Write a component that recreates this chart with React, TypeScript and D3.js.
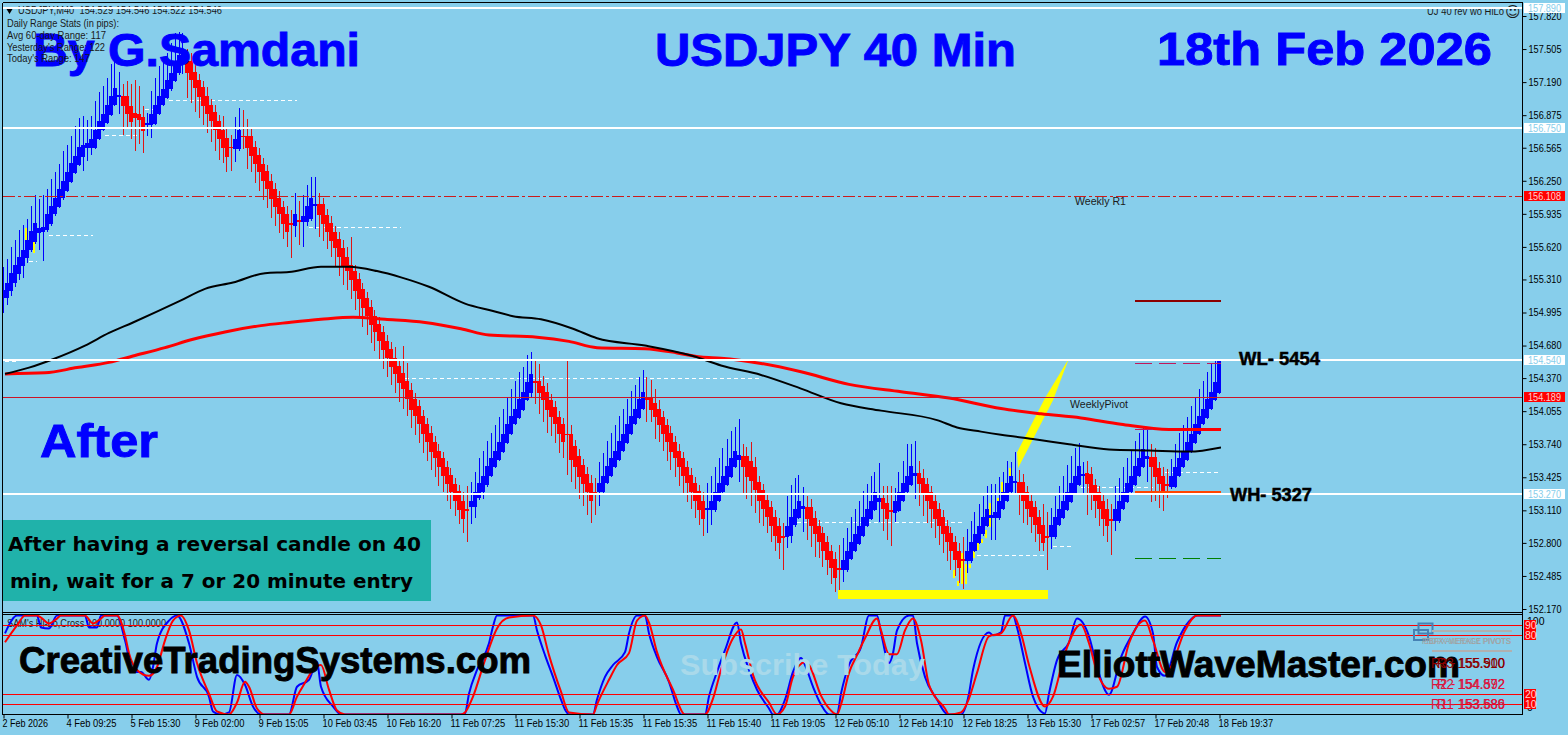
import React, { useEffect, useRef } from 'react';
import * as d3 from 'd3';

// heiken ashi closes, one per M40 bar
const closes = [
  155.21,155.28,155.37,155.45,155.52,155.59,155.69,155.77,155.85,155.80,
  155.81,155.93,156.01,156.09,156.17,156.25,156.33,156.42,156.49,156.57,
  156.59,156.61,156.65,156.73,156.82,156.89,156.97,157.06,157.13,157.07,
  156.96,156.89,156.81,156.85,156.83,156.72,156.80,156.89,156.97,157.06,
  157.12,157.21,157.28,157.38,157.45,157.47,157.28,157.21,157.13,157.05,
  156.96,156.89,156.82,156.73,156.65,156.56,156.48,156.56,156.65,156.73,
  156.67,156.56,156.49,156.41,156.33,156.25,156.17,156.08,156.00,155.93,
  155.84,155.76,155.83,155.93,155.86,155.91,156.01,156.09,156.03,155.92,
  155.84,155.76,155.68,155.61,155.52,155.44,155.39,155.30,155.20,155.12,
  155.04,154.96,154.88,154.81,154.72,154.64,154.56,154.48,154.41,154.32,
  154.27,154.17,154.07,154.01,153.93,153.84,153.76,153.67,153.61,153.52,
  153.44,153.36,153.28,153.20,153.11,153.03,153.10,153.20,153.28,153.37,
  153.44,153.53,153.61,153.68,153.76,153.84,153.93,154.01,154.08,154.17,
  154.24,154.33,154.41,154.32,154.23,154.16,154.07,154.00,153.93,153.84,
  153.76,153.83,153.59,153.52,153.43,153.36,153.28,153.20,153.26,153.37,
  153.44,153.53,153.61,153.68,153.77,153.84,153.93,154.01,154.08,154.17,
  154.24,154.16,154.07,154.00,153.92,153.84,153.76,153.67,153.61,153.52,
  153.44,153.37,153.28,153.20,153.11,153.03,153.13,153.20,153.28,153.37,
  153.44,153.53,153.61,153.68,153.64,153.52,153.43,153.39,153.30,153.20,
  153.12,153.05,152.96,152.87,152.80,152.85,152.96,153.05,153.12,153.20,
  153.15,153.03,152.96,152.88,152.81,152.72,152.64,152.56,152.47,152.54,
  152.64,152.72,152.81,152.88,152.96,153.05,153.12,153.20,153.28,153.23,
  153.12,153.03,153.09,153.20,153.28,153.37,153.44,153.53,153.47,153.36,
  153.27,153.20,153.12,153.03,152.96,152.88,152.81,152.72,152.64,152.56,
  152.63,152.72,152.81,152.88,152.96,153.05,153.12,153.07,153.09,153.20,
  153.28,153.37,153.44,153.39,153.27,153.20,153.12,153.05,152.97,152.88,
  152.80,152.85,152.97,153.05,153.12,153.20,153.28,153.37,153.44,153.53,
  153.46,153.36,153.27,153.20,153.12,153.03,152.96,153.01,153.12,153.20,
  153.28,153.37,153.44,153.53,153.61,153.69,153.63,153.52,153.43,153.36,
  153.27,153.34,153.44,153.52,153.61,153.68,153.76,153.84,153.93,154.01,
  154.08,154.17,154.24,154.33,154.53,
];

// signed body in pips, positive = bull bar
const bodyPips = [
  8,15,17,17,16,15,18,18,18,5,
  5,15,17,16,17,16,18,18,17,17,
  11,5,9,17,17,16,17,18,16,2,
  -10,-17,-15,-5,-6,-14,2,11,18,17,
  15,17,16,18,17,10,-11,-18,-16,-16,
  -18,-17,-15,-18,-17,-17,-18,-1,10,18,
  -1,-12,-19,-16,-17,-16,-17,-17,-17,-16,
  -16,-17,-2,11,-2,5,15,20,2,-11,
  -19,-16,-17,-15,-18,-17,-13,-15,-19,-19,
  -18,-17,-17,-15,-17,-17,-16,-17,-15,-17,
  -15,-17,-19,-16,-17,-17,-17,-18,-15,-16,
  -17,-16,-17,-16,-18,-17,-2,6,14,14,
  16,18,17,16,17,17,18,17,15,18,
  17,17,18,-2,-11,-13,-17,-16,-16,-16,
  -17,-1,-25,-20,-20,-18,-18,-17,-2,9,
  16,16,17,16,18,16,18,17,15,18,
  16,-2,-11,-13,-16,-16,-16,-18,-15,-16,
  -17,-15,-17,-17,-18,-17,2,9,17,17,
  16,18,18,16,5,-11,-20,-19,-22,-18,
  -18,-16,-18,-18,-16,-2,10,18,15,16,
  3,-11,-18,-16,-15,-17,-17,-16,-18,-2,
  10,18,16,16,17,18,16,17,17,4,
  -11,-15,-2,12,18,17,16,18,3,-11,
  -15,-16,-16,-17,-16,-17,-15,-17,-17,-16,
  -2,9,18,16,16,17,16,3,5,16,
  16,17,16,2,-11,-18,-16,-15,-17,-17,
  -17,-2,11,19,15,16,17,18,17,18,
  2,-11,-19,-15,-16,-17,-16,-2,11,19,
  16,18,16,18,17,17,3,-10,-19,-15,
  -17,-2,11,19,17,16,17,17,18,17,
  15,18,16,17,30,
];

const upperWickPips = [
  22,22,25,24,26,24,20,24,26,28,
  30,24,26,24,24,28,26,26,28,28,
  28,22,22,28,28,26,26,30,30,22,
  11,14,21,31,26,10,10,22,26,28,
  28,26,28,28,22,19,12,8,6,6,
  6,8,6,6,6,14,10,12,21,21,
  24,16,8,6,6,6,6,6,6,6,
  6,8,12,20,18,20,20,20,26,10,
  6,6,6,6,6,8,10,26,6,6,
  6,6,6,6,6,6,6,6,11,6,
  26,17,6,6,6,6,6,6,6,6,
  6,6,6,6,6,8,22,18,20,24,
  24,24,24,24,24,24,26,26,26,26,
  24,26,21,20,16,10,8,6,6,6,
  6,70,8,6,6,6,6,8,14,20,
  22,24,24,24,24,24,24,24,22,21,
  21,20,17,14,8,6,6,6,6,6,
  6,6,6,6,6,8,24,24,24,24,
  26,26,26,22,34,11,8,18,10,6,
  6,6,6,6,8,12,29,30,30,25,
  18,11,8,6,6,6,6,6,6,22,
  21,22,24,24,24,24,24,24,20,33,
  11,16,23,12,20,21,30,21,30,11,
  8,6,6,6,6,6,6,6,6,8,
  21,21,20,21,21,20,22,29,27,23,
  20,21,13,28,11,8,6,6,6,6,
  20,22,16,20,22,24,26,26,26,22,
  11,11,6,6,6,6,10,14,22,22,
  24,24,24,24,24,20,27,12,8,6,
  8,14,16,22,24,24,24,26,26,26,
  26,26,26,20,1,
];

const lowerWickPips = [
  14,6,5,4,6,12,4,2,2,16,
  27,2,2,2,1,2,1,1,1,1,
  14,12,6,1,1,1,1,1,1,16,
  27,14,16,32,23,21,10,12,1,1,
  1,1,1,1,2,10,24,22,22,20,
  18,18,20,20,20,14,15,22,12,2,
  12,20,16,18,18,18,18,18,18,18,
  14,14,32,11,22,24,4,2,22,21,
  16,16,16,18,18,18,18,18,18,18,
  18,18,18,18,18,18,18,18,18,18,
  19,16,18,18,18,18,18,18,18,18,
  16,16,16,14,13,14,29,16,10,2,
  6,2,1,1,1,1,1,1,1,1,
  1,1,5,20,20,21,22,18,18,18,
  15,38,21,21,21,21,21,21,19,13,
  2,1,1,1,1,1,1,1,1,1,
  1,21,12,21,16,16,18,18,18,18,
  18,18,16,16,14,16,22,14,2,1,
  1,1,1,1,21,26,21,24,22,21,
  16,16,15,15,15,31,11,7,2,1,
  22,20,20,21,15,15,15,15,14,23,
  11,2,1,1,1,1,1,1,1,19,
  21,20,32,8,1,1,1,1,22,21,
  21,21,18,18,18,18,18,18,16,14,
  27,12,2,1,1,1,1,21,21,2,
  1,1,1,10,20,21,15,16,16,16,
  8,31,12,2,1,1,1,1,1,1,
  18,29,16,16,16,16,15,33,10,2,
  1,1,1,1,1,1,22,33,23,23,
  17,11,2,1,1,1,1,1,1,1,
  1,1,1,1,1,
];

// moving averages read at a bar index
const blackMaBars = [0,6,12,20,26,32,44,50,57,65,71,79,86,93,99,106,115,122,127,134,142,148,160,172,179,189,199,209,219,233,238,244,249,257,266,276,286,296,304];
const blackMaValues = [154.41,154.47,154.55,154.68,154.80,154.90,155.11,155.22,155.28,155.37,155.38,155.43,155.43,155.39,155.33,155.24,155.08,155.01,154.96,154.93,154.84,154.75,154.68,154.58,154.49,154.40,154.27,154.13,154.06,153.97,153.90,153.86,153.83,153.79,153.74,153.69,153.68,153.67,153.71];
const redMaBars = [0,10,18,26,32,40,47,55,64,71,79,87,95,105,114,121,133,141,148,160,168,174,179,189,199,211,224,236,249,259,269,279,291,304];
const redMaValues = [154.41,154.42,154.47,154.52,154.58,154.66,154.74,154.81,154.87,154.90,154.93,154.95,154.93,154.90,154.84,154.78,154.76,154.72,154.66,154.65,154.61,154.57,154.56,154.51,154.43,154.31,154.24,154.18,154.08,154.03,153.99,153.93,153.88,153.88];

// SAM's Hi-Lo cross oscillator
const stochBlueBars = [0,3,8,9,11,13,20,21,23,24,28,30,32,34,36,37,38,41,43,46,48,51,52,54,56,58,60,62,64,71,73,76,78,79,82,84,114,115,116,118,121,122,123,132,133,135,137,139,140,141,147,148,150,152,155,156,158,160,161,163,166,168,169,175,176,178,180,183,184,186,188,191,192,193,195,197,199,200,202,204,206,208,209,211,214,216,218,219,221,222,223,226,227,228,230,233,235,236,239,241,242,246,247,249,250,252,253,255,257,260,261,263,266,268,271,273,276,279,282,285,287,288,290,293,296,298,304];
const stochBlueValues = [82,100,100,88,87,100,100,88,88,100,100,75,43,43,35,48,72,95,100,72,38,18,3,0,2,40,30,8,0,0,28,35,53,28,8,0,0,1,21,45,72,89,100,100,85,60,38,15,5,0,0,15,38,50,63,82,100,100,82,58,33,8,0,0,18,43,65,93,72,45,25,6,0,0,15,43,57,50,28,10,0,0,21,50,68,100,100,83,52,62,85,100,100,72,38,15,2,0,0,21,45,83,80,83,100,100,88,52,18,1,21,55,73,97,79,48,20,58,82,99,82,48,39,73,94,100,100];
const stochRedBars = [0,3,5,8,9,11,13,14,20,22,24,25,28,30,31,33,36,38,40,42,44,46,48,51,53,56,58,60,61,63,65,71,73,75,77,79,81,83,85,114,115,117,120,123,126,132,134,136,139,141,147,148,151,153,156,158,160,161,163,167,170,175,177,179,182,184,185,187,191,193,195,197,200,201,204,206,208,209,211,213,215,218,219,221,223,225,227,229,231,235,236,239,241,243,246,249,252,254,256,260,262,265,269,271,273,276,278,281,285,287,290,291,295,298,304];
const stochRedValues = [73,90,100,100,98,92,97,100,100,92,97,100,100,80,62,45,39,48,75,95,100,85,52,21,3,0,12,33,28,6,0,0,18,32,45,50,25,4,0,0,2,18,55,87,98,100,90,60,23,2,0,10,35,50,62,95,100,93,63,25,0,0,16,45,77,86,72,40,12,0,8,38,53,50,19,6,0,10,42,60,77,97,85,61,61,85,97,75,30,6,0,2,16,42,79,82,100,82,50,8,18,62,91,72,43,26,28,72,95,75,43,45,85,100,100];

const priceTicks = [157.82,157.505,157.19,156.875,156.565,156.25,155.935,155.62,155.31,154.995,154.68,154.37,154.055,153.74,153.425,153.11,152.8,152.485,152.17];
const timeLabels = ['2 Feb 2026','4 Feb 09:25','5 Feb 15:30','9 Feb 02:00','9 Feb 15:05','10 Feb 03:45','10 Feb 16:20','11 Feb 07:25','11 Feb 15:30','11 Feb 15:35','11 Feb 15:35','11 Feb 15:40','11 Feb 19:05','12 Feb 05:10','12 Feb 14:10','12 Feb 18:25','13 Feb 15:30','17 Feb 02:57','17 Feb 20:48','18 Feb 19:37'];
const barsPerLabel = 16;

// horizontal levels with their price tags on the axis
const whiteLevels = [157.89, 156.75, 154.54, 153.27];
const redDashLevel = 156.108;
const redSolidLevel = 154.189;
const oscLevels = [90, 80, 20, 10];

// short dashed white pivots: price, first bar, last bar
const pivotPrices = [155.73,155.49,156.69,156.93,157.02,155.81,154.37,153.00,152.68,152.77,153.33,153.48,154.53];
const pivotFrom = [11,6,25,35,41,76,100,198,243,262,269,290,0];
const pivotTo = [22,8,33,38,73,99,189,240,260,267,287,304,3];

// weekly band on the right: price, colour
const bandPrices = [155.11, 154.51, 153.29, 152.66];
const bandColors = ['#8b0000', '#c2185b', '#ff4500', '#008000'];
const bandDashes = ['', '17,7', '', '17,7'];

// yellow arrow wedge and ghost wicks
const wedgeBars = [253,260,266,262,253.25];
const wedgePrices = [153.66,154.18,154.56,154.16,153.51];
const ghostBars = [5,7,237,238,239,240,241,242,243,244,245,246,248,249,251];
const ghostLows = [155.69,155.56,152.47,152.39,152.41,152.41,152.56,152.66,152.73,152.80,152.85,152.95,153.04,153.22,153.41];
const ghostHighs = [155.80,155.80,152.54,152.44,152.70,152.60,152.60,152.72,152.81,152.84,152.92,153.18,153.23,153.38,153.51];

const infoLines = ['Daily Range Stats (in pips):', 'Avg 60-day Range: 117', "Yesterday's Range: 122", "Today's Range: 147"];
const infoWidths = [112, 99, 98, 83];
const pivotRows = [
  ['R3 - 155.900', 'R3 155.510', '#8b0000'],
  ['R2 - 154.592', 'R2 154.872', '#dc143c'],
  ['R1 - 153.689', 'R1 153.586', '#dc143c'],
];

const SMALL = '"Liberation Sans", Arial, sans-serif';
const BLUE = '#0000ff';
const RED = '#ff0000';

export default function App() {
  const ref = useRef<SVGSVGElement | null>(null);

  useEffect(() => {
    const svg = d3.select(ref.current);
    svg.selectAll('*').remove();

    const x = d3.scaleLinear().domain([0, closes.length - 1]).range([5, 1221]);
    const y = d3.scaleLinear().domain([157.82, 152.17]).range([16, 609]);
    const osc = d3.scaleLinear().domain([0, 100]).range([714.4, 615.6]);

    const text = (g: any, str: string, tx: number, ty: number, size: number, fill: string, opts: any = {}) => {
      const t = g.append('text').attr('x', tx).attr('y', ty)
        .attr('font-family', opts.family || SMALL)
        .attr('font-size', size)
        .attr('font-weight', opts.bold ? 'bold' : 'normal')
        .attr('fill', fill)
        .text(str);
      if (opts.len) t.attr('textLength', opts.len).attr('lengthAdjust', 'spacingAndGlyphs');
      if (opts.heavy) t.attr('stroke', fill).attr('stroke-width', opts.heavy);
      return t;
    };

    svg.append('rect').attr('width', 1568).attr('height', 735).attr('fill', '#87ceeb');

    const defs = svg.append('defs');
    defs.append('clipPath').attr('id', 'plot').append('rect').attr('x', 3).attr('y', 3).attr('width', 1218).attr('height', 609);
    defs.append('clipPath').attr('id', 'oscClip').append('rect').attr('x', 3).attr('y', 615).attr('width', 1519).attr('height', 99);

    const plot = svg.append('g').attr('clip-path', 'url(#plot)');

    // yellow bar and arrow go under the candles
    svg.append('rect')
      .attr('x', x(208.2)).attr('width', x(260.7) - x(208.2))
      .attr('y', y(152.35)).attr('height', y(152.27) - y(152.35))
      .attr('fill', '#ffff00').attr('shape-rendering', 'crispEdges');

    const wedge = d3.line<number>().x(d => x(wedgeBars[d])).y(d => y(wedgePrices[d]));
    plot.append('path').attr('d', wedge(d3.range(wedgeBars.length)) + 'Z').attr('fill', '#ffff00');

    plot.selectAll('.ghost').data(ghostBars).enter().append('line')
      .attr('class', 'ghost')
      .attr('x1', d => x(d) + 1).attr('x2', d => x(d) + 1)
      .attr('y1', (d, i) => y(ghostHighs[i])).attr('y2', (d, i) => y(ghostLows[i]))
      .attr('stroke', '#ffff00').attr('stroke-width', 2).attr('shape-rendering', 'crispEdges');

    // dashed pivots
    plot.selectAll('.pivot').data(pivotPrices).enter().append('line')
      .attr('class', 'pivot')
      .attr('x1', (d, i) => x(pivotFrom[i])).attr('x2', (d, i) => x(pivotTo[i]))
      .attr('y1', d => Math.round(y(d)) + 0.5).attr('y2', d => Math.round(y(d)) + 0.5)
      .attr('stroke', '#ffffff').attr('stroke-dasharray', '4,3').attr('shape-rendering', 'crispEdges');

    // candles, 4px wide, bodies of neighbours overlap into the ribbon
    const candles = plot.selectAll('.bar').data(d3.range(closes.length)).enter().append('g').attr('class', 'bar')
      .attr('shape-rendering', 'crispEdges');
    candles.append('line')
      .attr('x1', d => Math.floor(x(d) - 2) + 0.5).attr('x2', d => Math.floor(x(d) - 2) + 0.5)
      .attr('y1', d => y(Math.max(closes[d], closes[d] - bodyPips[d] / 100) + upperWickPips[d] / 100))
      .attr('y2', d => y(Math.min(closes[d], closes[d] - bodyPips[d] / 100) - lowerWickPips[d] / 100))
      .attr('stroke', d => (bodyPips[d] > 0 ? BLUE : '#e01414'));
    candles.append('rect')
      .attr('x', d => x(d) - 4).attr('width', 4)
      .attr('y', d => y(Math.max(closes[d], closes[d] - bodyPips[d] / 100)))
      .attr('height', d => Math.max(1, Math.abs(bodyPips[d]) / 100 * (y(152) - y(153))))
      .attr('fill', d => (bodyPips[d] > 0 ? BLUE : RED));

    // moving averages
    const blackLine = d3.line<number>().x(d => x(blackMaBars[d])).y(d => y(blackMaValues[d])).curve(d3.curveMonotoneX);
    const redLine = d3.line<number>().x(d => x(redMaBars[d])).y(d => y(redMaValues[d])).curve(d3.curveMonotoneX);
    plot.append('path').attr('d', redLine(d3.range(redMaBars.length))).attr('fill', 'none').attr('stroke', RED).attr('stroke-width', 3);
    plot.append('path').attr('d', blackLine(d3.range(blackMaBars.length))).attr('fill', 'none').attr('stroke', '#000000').attr('stroke-width', 2);

    // weekly band
    plot.selectAll('.band').data(bandPrices).enter().append('line')
      .attr('class', 'band')
      .attr('x1', 1135).attr('x2', 1221)
      .attr('y1', d => Math.round(y(d)) + 0.5).attr('y2', d => Math.round(y(d)) + 0.5)
      .attr('stroke', (d, i) => bandColors[i])
      .attr('stroke-width', (d, i) => (bandDashes[i] ? 1 : 2))
      .attr('stroke-dasharray', (d, i) => bandDashes[i] || null)
      .attr('shape-rendering', 'crispEdges');
    svg.append('line').attr('x1', 1135).attr('x2', 1153).attr('y1', 429.5).attr('y2', 429.5)
      .attr('stroke', '#c2185b').attr('shape-rendering', 'crispEdges');

    // red levels
    svg.append('line').attr('x1', 3).attr('x2', 1522)
      .attr('y1', Math.round(y(redDashLevel)) + 0.5).attr('y2', Math.round(y(redDashLevel)) + 0.5)
      .attr('stroke', '#cc1a1a').attr('stroke-dasharray', '12,3,3,3').attr('shape-rendering', 'crispEdges');
    svg.append('line').attr('x1', 3).attr('x2', 1522)
      .attr('y1', Math.round(y(redSolidLevel)) + 0.5).attr('y2', Math.round(y(redSolidLevel)) + 0.5)
      .attr('stroke', '#cc1426').attr('shape-rendering', 'crispEdges');

    // titles
    const titles = svg.append('g');
    text(titles, 'By G.Samdani', 33, 66, 47, BLUE, { bold: true, len: 327, heavy: 0.9 });
    text(titles, 'USDJPY 40 Min', 655, 66, 47, BLUE, { bold: true, len: 361, heavy: 0.9 });
    text(titles, '18th Feb 2026', 1157, 65, 47, BLUE, { bold: true, len: 335, heavy: 0.9 });
    text(titles, 'After', 40, 457, 47, BLUE, { bold: true, len: 118, heavy: 0.9 });

    // info text
    const info = svg.append('g');
    text(info, 'USDJPY,M40  154.529 154.546 154.522 154.546', 18, 14, 10.5, '#1a1a1a', { len: 204 }).attr('xml:space', 'preserve');
    info.append('path').attr('d', d3.symbol().type(d3.symbolTriangle).size(22)()).attr('transform', 'translate(9.5,10) rotate(180)').attr('fill', '#000000');
    infoLines.forEach((l, i) => text(info, l, 7, 27 + i * 11.8, 10.5, '#1a1a1a', { len: infoWidths[i] }));
    text(info, 'UJ 40 rev wo HiLo', 1427, 15, 10.5, '#1a1a1a', { len: 77 });
    text(info, '\u263A', 1505, 17, 15, '#1a1a1a', { family: '"DejaVu Sans"' });
    text(info, 'Weekly R1', 1075, 205, 10.5, '#1a1a1a', { len: 51 });
    text(info, 'WeeklyPivot', 1070, 408, 10.5, '#1a1a1a', { len: 58 });

    // white levels on top of candles
    svg.selectAll('.white').data(whiteLevels).enter().append('line')
      .attr('class', 'white')
      .attr('x1', 3).attr('x2', 1522)
      .attr('y1', d => (d > 157.5 ? Math.floor(y(d)) : Math.round(y(d)))).attr('y2', d => (d > 157.5 ? Math.floor(y(d)) : Math.round(y(d))))
      .attr('stroke', '#ffffff').attr('stroke-width', 2).attr('shape-rendering', 'crispEdges');

    text(svg, 'WL- 5454', 1239, 365, 18, '#000000', { bold: true, len: 81, heavy: 0.5 });
    text(svg, 'WH- 5327', 1230, 501, 18, '#000000', { bold: true, len: 82, heavy: 0.5 });

    // teal note
    svg.append('rect').attr('x', 3).attr('y', 520).attr('width', 428).attr('height', 81).attr('fill', '#20b2aa');
    text(svg, 'After having a reversal candle on 40', 8, 551, 19, '#000000', { bold: true, family: '"DejaVu Sans"', len: 413 });
    text(svg, 'min, wait for a 7 or 20 minute entry', 10, 588, 19, '#000000', { bold: true, family: '"DejaVu Sans"', len: 403 });

    // oscillator panel
    text(svg, "SAM's Hi-Lo,Cross 100.0000 100.0000", 7, 627, 10.5, '#1a1a1a', { len: 159 });
    const oscG = svg.append('g').attr('clip-path', 'url(#oscClip)');
    const blueLine = d3.line<number>().x(d => x(stochBlueBars[d])).y(d => osc(stochBlueValues[d])).curve(d3.curveMonotoneX);
    const redOsc = d3.line<number>().x(d => x(stochRedBars[d])).y(d => osc(stochRedValues[d])).curve(d3.curveMonotoneX);
    oscG.append('path').attr('d', blueLine(d3.range(stochBlueBars.length))).attr('fill', 'none').attr('stroke', BLUE).attr('stroke-width', 2);
    oscG.append('path').attr('d', redOsc(d3.range(stochRedBars.length))).attr('fill', 'none').attr('stroke', RED).attr('stroke-width', 2);

    text(svg, 'Subscribe Today', 680, 675, 30, '#a9d9ea', { bold: true, len: 245 });
    text(svg, 'CreativeTradingSystems.com', 19, 673, 37, '#000000', { bold: true, len: 512, heavy: 0.9 });
    text(svg, 'ElliottWaveMaster.com', 1057, 677, 36, '#000000', { bold: true, len: 403, heavy: 0.9 });

    svg.selectAll('.osclevel').data(oscLevels).enter().append('line')
      .attr('class', 'osclevel')
      .attr('x1', 3).attr('x2', 1522)
      .attr('y1', d => Math.floor(osc(d)) + 0.5).attr('y2', d => Math.floor(osc(d)) + 0.5)
      .attr('stroke', RED).attr('shape-rendering', 'crispEdges');

    // pivots box in the corner
    const box = svg.append('g');
    box.append('rect').attr('x', 1418.5).attr('y', 623.5).attr('width', 14).attr('height', 10).attr('fill', 'none').attr('stroke', '#4682b4').attr('stroke-width', 2);
    box.append('rect').attr('x', 1414).attr('y', 630).attr('width', 14).attr('height', 10).attr('fill', 'none').attr('stroke', '#4682b4').attr('stroke-width', 2);
    box.append('line').attr('x1', 1432).attr('x2', 1512).attr('y1', 631).attr('y2', 631).attr('stroke', '#b0b0b0').attr('stroke-width', 2);
    box.append('line').attr('x1', 1432).attr('x2', 1512).attr('y1', 651).attr('y2', 651).attr('stroke', '#b0b0b0').attr('stroke-width', 2);
    text(box, 'FIBFX AVERAGE PIVOTS', 1422, 644, 9.5, '#9a9a9a', { len: 89 });
    text(box, 'EIDFX WEEKLY PIVOTS', 1424, 644, 9.5, '#a6a6a6', { len: 87 });
    pivotRows.forEach((r, i) => {
      const ty = [668, 689, 709][i];
      text(box, r[0], 1431, ty, 14, r[2], { len: 74 });
      text(box, r[1], 1437, ty, 14, r[2], { len: 68 });
    });

    // frame
    const frame = svg.append('g').attr('stroke', '#000000').attr('shape-rendering', 'crispEdges');
    frame.append('line').attr('x1', 2.5).attr('x2', 2.5).attr('y1', 2.5).attr('y2', 714.5);
    frame.append('line').attr('x1', 1522.5).attr('x2', 1522.5).attr('y1', 2.5).attr('y2', 714.5);
    frame.append('line').attr('x1', 2.5).attr('x2', 1522.5).attr('y1', 2.5).attr('y2', 2.5);
    frame.append('line').attr('x1', 2.5).attr('x2', 1522.5).attr('y1', 612.5).attr('y2', 612.5);
    frame.append('line').attr('x1', 2.5).attr('x2', 1522.5).attr('y1', 614.5).attr('y2', 614.5);
    frame.append('line').attr('x1', 2.5).attr('x2', 1522.5).attr('y1', 714.5).attr('y2', 714.5);

    // axes
    const axisY = d3.axisRight(y).tickValues(priceTicks).tickFormat(d3.format('.3f') as any).tickSize(4).tickPadding(2);
    const gy = svg.append('g').attr('transform', 'translate(1522.5,0)').call(axisY as any);
    gy.select('.domain').remove();
    gy.selectAll('text').attr('font-family', SMALL).attr('font-size', 10.5).attr('fill', '#000000')
      .attr('textLength', 33).attr('lengthAdjust', 'spacingAndGlyphs');

    const axisX = d3.axisBottom(x)
      .tickValues(timeLabels.map((_, i) => i * barsPerLabel))
      .tickFormat((d: any) => timeLabels[d / barsPerLabel])
      .tickSize(4).tickPadding(1);
    const gx = svg.append('g').attr('transform', 'translate(-1.5,714.5)').call(axisX as any);
    gx.select('.domain').remove();
    gx.selectAll('text').attr('font-family', SMALL).attr('font-size', 10.5).attr('fill', '#000000')
      .attr('text-anchor', 'start').attr('dx', -1.5)
      .attr('textLength', (d: any) => timeLabels[d / barsPerLabel].length * 4.55)
      .attr('lengthAdjust', 'spacingAndGlyphs');

    // osc scale labels
    text(svg, '100', 1527, 625, 10.5, '#000000');
    text(svg, '0', 1527, 711, 10.5, '#000000');

    // price tags
    const tags = svg.append('g');
    const tag = (price: number, fill: string, color: string, py: number) => {
      tags.append('rect').attr('x', 1524).attr('y', py - 5).attr('width', 41).attr('height', 10).attr('fill', fill);
      text(tags, price.toFixed(3), 1528, py + 3.8, 10.5, color, { len: 33 });
    };
    whiteLevels.forEach(l => tag(l, '#ffffff', '#87ceeb', l > 157.5 ? Math.floor(y(l)) : Math.round(y(l))));
    tag(redDashLevel, RED, '#ffd0d0', Math.round(y(redDashLevel)));
    tag(redSolidLevel, RED, '#ffd0d0', Math.round(y(redSolidLevel)));
    oscLevels.forEach(l => {
      const py = Math.floor(osc(l));
      tags.append('rect').attr('x', 1524).attr('y', py - 5).attr('width', 12).attr('height', 10).attr('fill', RED);
      text(tags, String(l), 1525, py + 3.8, 10.5, '#ffd0d0');
    });
  }, []);

  return (
    <svg
      ref={ref}
      width={1568}
      height={735}
      viewBox="0 0 1568 735"
      style={{ position: 'fixed', left: 0, top: 0, display: 'block' }}
    />
  );
}
